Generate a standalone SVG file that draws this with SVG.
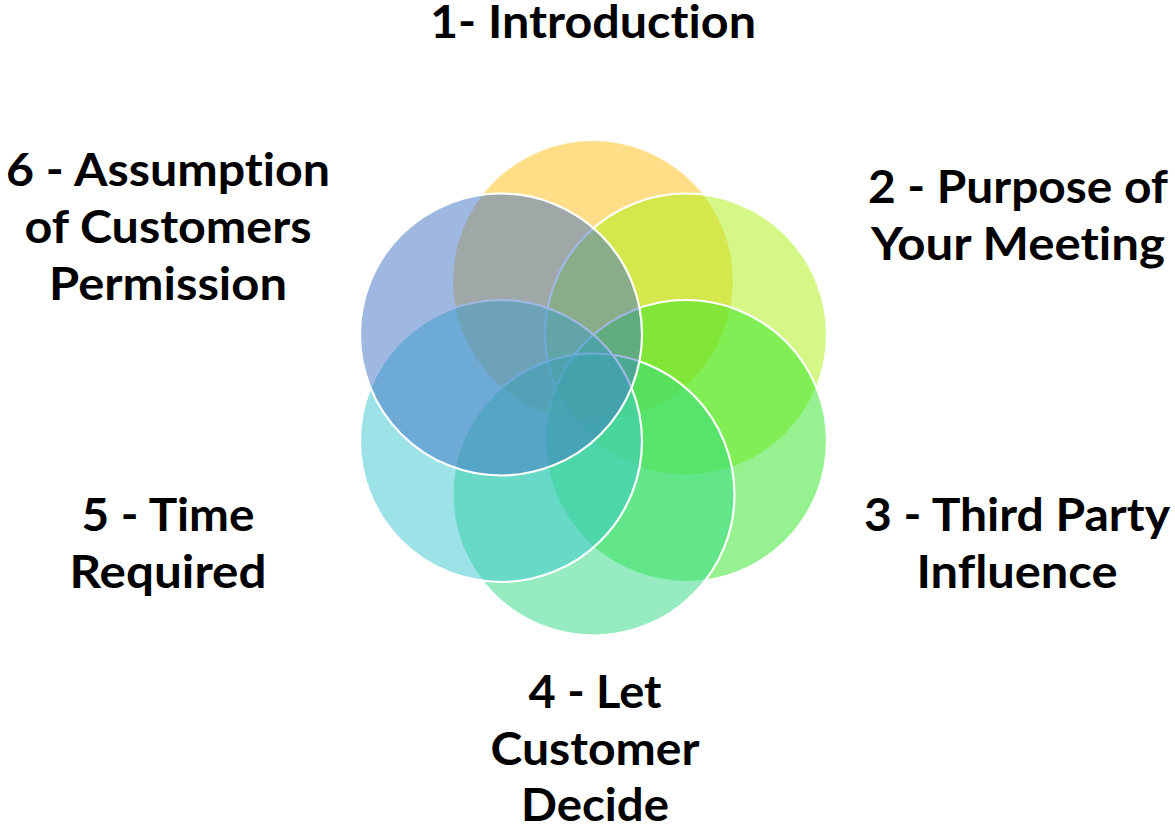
<svg xmlns="http://www.w3.org/2000/svg" width="1175" height="828" viewBox="0 0 1175 828">
  <style>
    .ring { stroke: #ffffff; stroke-width: 2.2; }
    .f1 { fill: rgb(255,189,15); fill-opacity: 0.5; }
    .f2 { fill: rgb(169,239,17); fill-opacity: 0.5; }
    .f3 { fill: rgb(45,229,33); fill-opacity: 0.5; }
    .f4 { fill: rgb(45,217,129); fill-opacity: 0.5; }
    .f5 { fill: rgb(57,197,205); fill-opacity: 0.5; }
    .f6 { fill: rgb(63,113,197); fill-opacity: 0.5; }
    .lbl { font-family: Lato, "Open Sans", "Liberation Sans", sans-serif; font-weight: 700; font-size: 46px; fill: #000000; text-anchor: middle; font-variant-ligatures: none; font-feature-settings: "liga" 0, "clig" 0; }
  </style>
  <rect x="0" y="0" width="1175" height="828" fill="#ffffff"/>

  <!-- six overlapping circles arranged around (593.5, 388) -->
  <g id="step1"><circle class="ring f1" cx="593" cy="281" r="141"/></g>
  <g id="step2"><circle class="ring f2" cx="686" cy="334.5" r="141"/></g>
  <g id="step3"><circle class="ring f3" cx="686" cy="441" r="141"/></g>
  <g id="step4"><circle class="ring f4" cx="593.5" cy="494.5" r="141"/></g>
  <g id="step5"><circle class="ring f5" cx="501" cy="441" r="141"/></g>
  <g id="step6"><circle class="ring f6" cx="501" cy="334.5" r="141"/></g>

  <!-- step labels -->
  <g id="label1">
    <text class="lbl" x="593" y="38" textLength="326" lengthAdjust="spacingAndGlyphs">1- Introduction</text>
  </g>
  <g id="label2">
    <text class="lbl" x="1018" y="203" textLength="300" lengthAdjust="spacingAndGlyphs">2 - Purpose of</text>
    <text class="lbl" x="1018" y="260" textLength="294" lengthAdjust="spacingAndGlyphs">Your Meeting</text>
  </g>
  <g id="label3">
    <text class="lbl" x="1017" y="531" textLength="306" lengthAdjust="spacingAndGlyphs">3 - Third Party</text>
    <text class="lbl" x="1017" y="588" textLength="201" lengthAdjust="spacingAndGlyphs">Influence</text>
  </g>
  <g id="label4">
    <text class="lbl" x="595" y="708" textLength="133" lengthAdjust="spacingAndGlyphs">4 - Let</text>
    <text class="lbl" x="595" y="765" textLength="209" lengthAdjust="spacingAndGlyphs">Customer</text>
    <text class="lbl" x="595" y="821" textLength="148" lengthAdjust="spacingAndGlyphs">Decide</text>
  </g>
  <g id="label5">
    <text class="lbl" x="168" y="531" textLength="173" lengthAdjust="spacingAndGlyphs">5 - Time</text>
    <text class="lbl" x="168" y="588" textLength="197" lengthAdjust="spacingAndGlyphs">Required</text>
  </g>
  <g id="label6">
    <text class="lbl" x="168" y="186" textLength="324" lengthAdjust="spacingAndGlyphs">6 - Assumption</text>
    <text class="lbl" x="168" y="243" textLength="287" lengthAdjust="spacingAndGlyphs">of Customers</text>
    <text class="lbl" x="168" y="300" textLength="238" lengthAdjust="spacingAndGlyphs">Permission</text>
  </g>
</svg>
